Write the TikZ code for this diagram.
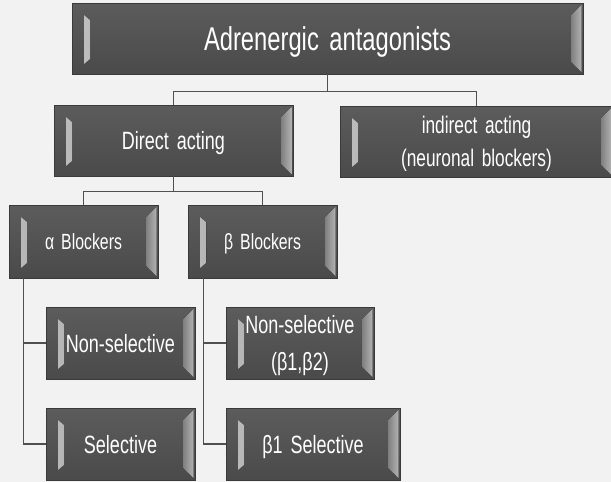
\documentclass[tikz,border=0pt]{standalone}
\usepackage{fontspec}
\setmainfont{Liberation Sans}[FakeStretch=0.72,WordSpace=1.6]
\usetikzlibrary{calc}

\begin{document}
\begin{tikzpicture}[x=1pt,y=-1pt]
    \definecolor{bg_gray}{HTML}{F2F2F2}
    \definecolor{box_top}{HTML}{5C5C5C}
    \definecolor{box_bot}{HTML}{4A4A4A}
    \definecolor{box_line}{HTML}{3A3A3A}
    \definecolor{link_gray}{HTML}{505050}
    \tikzset{
        blockbox/.style={draw=box_line, line width=0.8pt, top color=box_top, bottom color=box_bot,
            text=white, inner sep=0pt, align=center, font=\fontsize{25}{36}\selectfont,
            text height=18pt, text depth=0pt,
            path picture={
                % left bevel
                \fill[left color=black!25, right color=black!60]
                    ([xshift=12pt,yshift=-12pt]path picture bounding box.north west)
                    -- ([xshift=18pt,yshift=-17pt]path picture bounding box.north west)
                    -- ([xshift=18pt,yshift=15pt]path picture bounding box.south west)
                    -- ([xshift=12pt,yshift=10pt]path picture bounding box.south west) -- cycle;
                % right bevel
                \fill[left color=black!50, middle color=black!5, right color=black!30]
                    ([xshift=-12pt,yshift=-12pt]path picture bounding box.north east)
                    -- ([xshift=-1.5pt,yshift=-2pt]path picture bounding box.north east)
                    -- ([xshift=-1.5pt,yshift=2pt]path picture bounding box.south east)
                    -- ([xshift=-12pt,yshift=12pt]path picture bounding box.south east) -- cycle;
            }},
        link/.style={draw=link_gray, line width=1.6pt}
    }
    %\draw[help lines] (0,0) grid (611,482);
    \fill[bg_gray] (0,0) rectangle (611,482);
    \useasboundingbox (0,0) rectangle (611,482);

    \node[blockbox, minimum width=511pt, minimum height=71pt, font=\fontsize{33}{40}\selectfont, text height=24pt]
        (antagonists) at (327.5,38.5) {Adrenergic antagonists};
    \node[blockbox, minimum width=239pt, minimum height=71pt] (direct) at (173.5,140.5) {Direct acting};
    \node[blockbox, minimum width=273pt, minimum height=71pt, font=\fontsize{24}{33}\selectfont, text height=50pt]
        (indirect) at (476.5,141.5) {indirect acting\\(neuronal blockers)};

    \node[blockbox, minimum width=149pt, minimum height=73pt, font=\fontsize{22}{30}\selectfont, text height=16pt]
        (alpha) at (83.5,241.5) {α Blockers};
    \node[blockbox, minimum width=149pt, minimum height=73pt, font=\fontsize{22}{30}\selectfont, text height=16pt]
        (beta) at (262.5,241.5) {β Blockers};

    \node[blockbox, minimum width=149pt, minimum height=72pt] (alphanonsel) at (120.5,343) {Non-selective};
    \node[blockbox, minimum width=149pt, minimum height=72pt] (alphasel) at (120.5,444) {Selective};
    \node[blockbox, minimum width=148pt, minimum height=72pt, font=\fontsize{25}{37}\selectfont, text height=55pt]
        (betanonsel) at (300,343) {Non-selective\\(β1,β2)};
    \node[blockbox, minimum width=174pt, minimum height=72pt] (betasel) at (313,444) {β1 Selective};

    \draw[link] (antagonists.south) -- ++(0,17) -| (direct.north);
    \draw[link] (antagonists.south) -- ++(0,17) -| (indirect.north);
    \draw[link] (direct.south) -- ++(0,15) -| (alpha.north);
    \draw[link] (direct.south) -- ++(0,15) -| (beta.north);
    \draw[link] ([xshift=15pt]alpha.south west) |- (alphanonsel.west);
    \draw[link] ([xshift=15pt]alpha.south west) |- (alphasel.west);
    \draw[link] ([xshift=16pt]beta.south west) |- (betanonsel.west);
    \draw[link] ([xshift=16pt]beta.south west) |- (betasel.west);
\end{tikzpicture}
\end{document}
